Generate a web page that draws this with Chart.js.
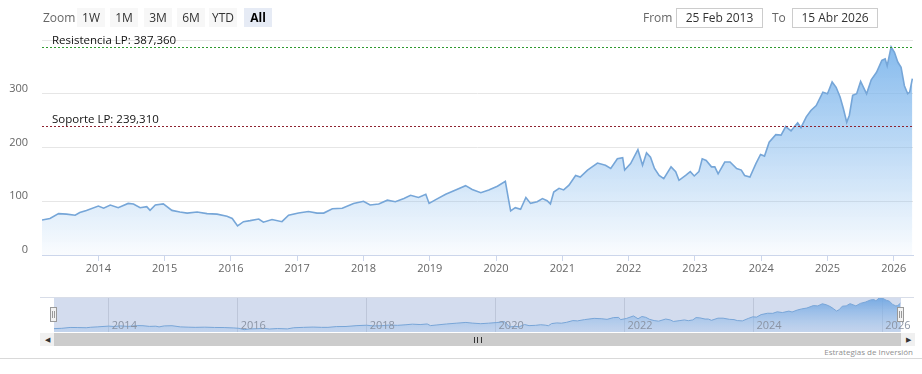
<!DOCTYPE html>
<html>
<head>
<meta charset="utf-8">
<script src="https://cdn.jsdelivr.net/npm/chart.js@4.4.1/dist/chart.umd.min.js"></script>
<style>
  body { margin: 0; background: #fff; font-family: "Open Sans", sans-serif; }
  #wrap { position: relative; width: 922px; height: 374px; overflow: hidden; }
  canvas { position: absolute; left: 0; }
  #main { top: 0; z-index: 1; }
  #nav { top: 297px; z-index: 2; }
  .lbl { position: absolute; top: 8px; height: 19px; line-height: 19px; font-size: 12px; color: #666; z-index: 3; }
  .btn { position: absolute; top: 8px; width: 28px; height: 19px; line-height: 19px; font-size: 12px;
         text-align: center; color: #333; background: #f7f7f7; z-index: 3; }
  .btn.sel { background: #e6ebf5; color: #000; font-weight: bold; }
  .box { position: absolute; top: 8px; height: 18px; line-height: 18px; font-size: 12px; color: #333;
         border: 1px solid #ccc; text-align: center; z-index: 3; }
  #navMask { position: absolute; left: 54px; top: 297px; width: 847px; height: 35px; background: #d3dcee; }
  #navTop { position: absolute; left: 40px; top: 297px; width: 874px; height: 1px; background: #d8dde8; z-index: 3; }
  .handle { position: absolute; top: 307px; width: 5px; height: 13px; background: #f2f2f2; border: 1px solid #999; z-index: 4; }
  .handle::after { content: ""; position: absolute; left: 1px; top: 3px; width: 1px; height: 7px; border-left: 1px solid #999; border-right: 1px solid #999; }
  .sbtn { position: absolute; top: 333px; width: 14px; height: 13px; background: #f0f0f0; z-index: 3;
          font-size: 7px; line-height: 13px; text-align: center; color: #333; }
  #track { position: absolute; left: 54px; top: 333px; width: 847px; height: 13px; background: #cccccc; z-index: 3; }
  #grip { position: absolute; left: 474px; top: 337px; width: 6px; height: 6px; z-index: 4;
          border-left: 1px solid #333; border-right: 1px solid #333; }
  #grip::after { content: ""; position: absolute; left: 2px; top: 0; width: 1px; height: 6px; background: #333; }
  #credit { position: absolute; right: 9px; top: 346px; font-size: 8px; color: #909090; z-index: 3; }
  #rule { position: absolute; left: 0; top: 358px; width: 922px; height: 1px; background: #d9d9d9; }
</style>
</head>
<body>
<div id="wrap">
  <div class="lbl" style="left:43px">Zoom</div>
  <div class="btn" style="left:77px">1W</div>
  <div class="btn" style="left:110px">1M</div>
  <div class="btn" style="left:144px">3M</div>
  <div class="btn" style="left:177px">6M</div>
  <div class="btn" style="left:209px">YTD</div>
  <div class="btn sel" style="left:244px">All</div>
  <div class="lbl" style="left:643px">From</div>
  <div class="box" style="left:676px;width:85px">25 Feb 2013</div>
  <div class="lbl" style="left:772px">To</div>
  <div class="box" style="left:792px;width:84px">15 Abr 2026</div>

  <canvas id="main" width="922" height="285"></canvas>

  <div id="navMask"></div>
  <canvas id="nav" width="922" height="35"></canvas>
  <div id="navTop"></div>
  <div class="handle" style="left:50px"></div>
  <div class="handle" style="left:897px"></div>

  <div class="sbtn" style="left:40px">&#9664;</div>
  <div id="track"></div>
  <div id="grip"></div>
  <div class="sbtn" style="left:901px">&#9654;</div>

  <div id="credit">Estrategias de Inversión</div>
  <div id="rule"></div>
</div>

<script>
// Price series (decimal year, value)
const dates = [
  2013.15, 2013.27, 2013.40, 2013.52, 2013.65, 2013.72, 2013.82, 2014.00, 2014.08, 2014.18,
  2014.30, 2014.45, 2014.53, 2014.63, 2014.73, 2014.78, 2014.86, 2014.98, 2015.11, 2015.23,
  2015.34, 2015.49, 2015.64, 2015.79, 2015.94, 2016.02, 2016.10, 2016.19, 2016.29, 2016.42,
  2016.49, 2016.62, 2016.77, 2016.87, 2017.02, 2017.17, 2017.30, 2017.40, 2017.53, 2017.68,
  2017.85, 2018.00, 2018.10, 2018.23, 2018.36, 2018.48, 2018.61, 2018.71, 2018.83, 2018.94,
  2018.99, 2019.09, 2019.24, 2019.39, 2019.54, 2019.64, 2019.77, 2019.89, 2020.02, 2020.14,
  2020.19, 2020.22, 2020.29, 2020.37, 2020.45, 2020.52, 2020.62, 2020.70, 2020.77, 2020.82,
  2020.87, 2020.95, 2021.02, 2021.10, 2021.20, 2021.27, 2021.38, 2021.53, 2021.65, 2021.73,
  2021.83, 2021.91, 2021.94, 2022.03, 2022.14, 2022.21, 2022.27, 2022.33, 2022.39, 2022.46,
  2022.53, 2022.64, 2022.71, 2022.76, 2022.86, 2022.93, 2022.99, 2023.06, 2023.11, 2023.17,
  2023.25, 2023.30, 2023.35, 2023.45, 2023.53, 2023.63, 2023.70, 2023.75, 2023.83, 2023.92,
  2023.99, 2024.05, 2024.12, 2024.22, 2024.30, 2024.37, 2024.45, 2024.55, 2024.60, 2024.68,
  2024.75, 2024.83, 2024.93, 2025.00, 2025.07, 2025.13, 2025.19, 2025.24, 2025.29, 2025.33,
  2025.38, 2025.44, 2025.50, 2025.59, 2025.66, 2025.74, 2025.82, 2025.87, 2025.90, 2025.96,
  2026.01, 2026.06, 2026.11, 2026.16, 2026.21, 2026.24, 2026.28
];
const prices = [
  65, 68, 77, 76, 74, 79, 83, 91, 87, 93,
  88, 96, 95, 88, 90, 83, 93, 95, 83, 80,
  78, 80, 77, 76, 72, 68, 54, 62, 64, 67,
  61, 66, 62, 74, 78, 81, 78, 78, 86, 87,
  96, 100, 93, 95, 102, 99, 105, 111, 107, 113,
  96, 103, 113, 121, 129, 122, 116, 121, 128, 137,
  102, 82, 88, 85, 107, 96, 99, 105, 101, 95,
  117, 124, 121, 130, 148, 145, 158, 171, 167, 161,
  179, 181, 158, 170, 196, 167, 190, 182, 161, 148,
  142, 164, 155, 139, 148, 155, 147, 155, 179, 176,
  164, 164, 151, 173, 173, 161, 158, 148, 145, 170,
  187, 184, 210, 224, 223, 239, 231, 246, 237, 257,
  269, 278, 303, 300, 322, 312, 294, 272, 247, 260,
  297, 300, 323, 300, 326, 340, 362, 365, 352, 387,
  377, 359, 349, 315, 300, 303, 328
];

const firstDate = 2013.15;
const lastDate = 2026.29;
const xTickYears = [2014, 2015, 2016, 2017, 2018, 2019, 2020, 2021, 2022, 2023, 2024, 2025, 2026];
const navTickYears = [2014, 2016, 2018, 2020, 2022, 2024, 2026];
const yTicks = [0, 100, 200, 300, 400];

// Support / resistance levels
const levelValues = [387.36, 239.31];
const levelLabels = ['Resistencia LP: 387,360', 'Soporte LP: 239,310'];
const levelColors = ['#2f9a2f', '#8e2230'];

const points = dates.map((d, i) => ({ x: d, y: prices[i] }));
const FONT = 'Open Sans';

function areaFill(context, top, bottom) {
  const { ctx, chartArea } = context.chart;
  if (!chartArea) return null;
  const g = ctx.createLinearGradient(0, chartArea.top, 0, chartArea.bottom);
  g.addColorStop(0, top);
  g.addColorStop(1, bottom);
  return g;
}

// dashed horizontal level lines with their captions
const levelLines = {
  id: 'levelLines',
  afterDatasetsDraw(chart) {
    const { ctx, chartArea, scales } = chart;
    ctx.save();
    levelValues.forEach((v, i) => {
      const y = Math.round(scales.y.getPixelForValue(v)) + 0.5;
      ctx.strokeStyle = levelColors[i];
      ctx.lineWidth = 1;
      ctx.setLineDash([2, 2]);
      ctx.beginPath();
      ctx.moveTo(chartArea.left, y);
      ctx.lineTo(chartArea.right, y);
      ctx.stroke();
      ctx.setLineDash([]);
      ctx.fillStyle = '#111';
      ctx.font = '11.5px "' + FONT + '"';
      ctx.textBaseline = 'alphabetic';
      ctx.fillText(levelLabels[i], chartArea.left + 10, y - 4);
    });
    ctx.restore();
  }
};

new Chart(document.getElementById('main'), {
  type: 'line',
  data: {
    datasets: [{
      data: points,
      borderColor: 'rgb(118,166,216)',
      borderWidth: 1.6,
      pointRadius: 0,
      tension: 0,
      fill: 'origin',
      backgroundColor: c => areaFill(c, 'rgba(124,181,236,0.95)', 'rgba(124,181,236,0.04)')
    }]
  },
  options: {
    responsive: false,
    animation: false,
    layout: { padding: { top: 40, right: 9, left: 0, bottom: 0 } },
    plugins: { legend: { display: false }, tooltip: { enabled: false } },
    scales: {
      x: {
        type: 'linear',
        min: firstDate,
        max: lastDate,
        afterBuildTicks: s => { s.ticks = xTickYears.map(v => ({ value: v })); },
        afterFit: s => { s.height = 30; },
        grid: { drawOnChartArea: false, drawTicks: true, tickLength: 6, color: '#ccd6eb' },
        border: { color: '#ccd6eb' },
        ticks: { color: '#666', font: { family: FONT, size: 11 }, padding: 1, maxRotation: 0, autoSkip: false,
                 callback: v => String(v) }
      },
      y: {
        min: 0,
        max: 400,
        afterBuildTicks: s => { s.ticks = yTicks.map(v => ({ value: v })); },
        afterFit: s => { s.width = 42; },
        grid: { color: '#e6e6e6', drawTicks: false },
        border: { display: false },
        ticks: { color: '#666', font: { family: FONT, size: 11 }, padding: 14, labelOffset: -5,
                 callback: v => (v === 400 ? '' : String(v)) }
      }
    }
  },
  plugins: [levelLines]
});

// navigator year labels sit inside the plot, right of each grid line
const navLabels = {
  id: 'navLabels',
  afterDatasetsDraw(chart) {
    const { ctx, chartArea, scales } = chart;
    ctx.save();
    ctx.fillStyle = '#8a93a3';
    ctx.font = '11px "' + FONT + '"';
    ctx.textBaseline = 'middle';
    navTickYears.forEach(v => {
      ctx.fillText(String(v), scales.x.getPixelForValue(v) + 3, chartArea.bottom - 6);
    });
    ctx.restore();
  }
};

new Chart(document.getElementById('nav'), {
  type: 'line',
  data: {
    datasets: [{
      data: points,
      borderColor: 'rgb(120,165,215)',
      borderWidth: 1,
      pointRadius: 0,
      tension: 0,
      fill: 'origin',
      backgroundColor: c => areaFill(c, 'rgba(110,165,225,0.95)', 'rgba(150,190,235,0.25)')
    }]
  },
  options: {
    responsive: false,
    animation: false,
    layout: { padding: { top: 0, right: 21, left: 54, bottom: 0 } },
    plugins: { legend: { display: false }, tooltip: { enabled: false } },
    scales: {
      x: {
        type: 'linear',
        min: firstDate,
        max: lastDate,
        afterBuildTicks: s => { s.ticks = navTickYears.map(v => ({ value: v })); },
        afterFit: s => { s.height = 0; },
        grid: { color: 'rgba(90,100,120,0.18)', drawTicks: false },
        border: { display: false },
        ticks: { display: false }
      },
      y: { display: false, min: 30, max: 392 }
    }
  },
  plugins: [navLabels]
});
</script>
</body>
</html>
